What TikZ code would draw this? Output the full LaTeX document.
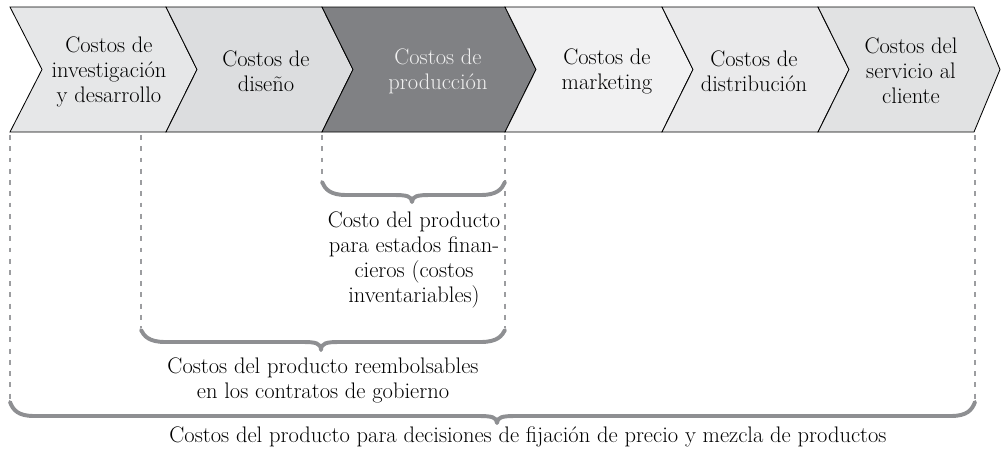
\documentclass[tikz,border=0pt]{standalone}
\usepackage{xcolor}

\definecolor{grisA}{HTML}{E6E7E8}
\definecolor{grisB}{HTML}{DCDDDF}
\definecolor{grisC}{HTML}{808184}
\definecolor{grisD}{HTML}{F1F1F2}
\definecolor{grisE}{HTML}{EAEAEB}
\definecolor{grisF}{HTML}{E1E2E3}
\definecolor{llavegris}{HTML}{8E8F92}
\definecolor{guiagris}{HTML}{9C9DA0}

\tikzset{
  etapa/.style={draw=black, line width=0.6pt, line join=miter},
  rotulo/.style={align=center, inner sep=0pt,
    font=\fontsize{16}{17.8}\selectfont},
  guia/.style={draw=guiagris, line width=1.4pt, dash pattern=on 3.5pt off 4.5pt},
  llave/.style={draw=llavegris, line width=2.8pt, line cap=round, line join=round},
}

% llave: x izq, x punta, x der, y extremos, y barra, y punta
\newcommand{\llave}[6]{%
  \draw[llave] (#1,#4) .. controls (#1+3,#5-6) and (#1+8,#5) .. (#1+24,#5)
    -- (#2-18,#5) .. controls (#2-6,#5) and (#2,#5+1) .. (#2,#6)
    .. controls (#2,#5+1) and (#2+6,#5) .. (#2+18,#5)
    -- (#3-24,#5) .. controls (#3-8,#5) and (#3-3,#5-6) .. (#3,#4);
}

\begin{document}
\begin{tikzpicture}[x=0.025cm, y=-0.025cm]
  \useasboundingbox (0,0) rectangle (1002,455);

  % cadena de valor
  \filldraw[etapa, fill=grisA] (10,7) -- (166,7) -- (197,69.5) -- (166,132) -- (10,132) -- (42,69.5) -- cycle;
  \filldraw[etapa, fill=grisB] (166,7) -- (322,7) -- (353,69.5) -- (322,132) -- (166,132) -- (197,69.5) -- cycle;
  \filldraw[etapa, fill=grisC] (322,7) -- (505,7) -- (536,69.5) -- (505,132) -- (322,132) -- (353,69.5) -- cycle;
  \filldraw[etapa, fill=grisD] (505,7) -- (662,7) -- (693,69.5) -- (662,132) -- (505,132) -- (536,69.5) -- cycle;
  \filldraw[etapa, fill=grisE] (662,7) -- (818,7) -- (849,69.5) -- (818,132) -- (662,132) -- (693,69.5) -- cycle;
  \filldraw[etapa, fill=grisF] (818,7) -- (974,7) -- (1000,69.5) -- (974,132) -- (818,132) -- (849,69.5) -- cycle;

  \node[rotulo] (inv) at (109,72) {Costos de\\investigación\\y desarrollo};
  \node[rotulo] (dis) at (266,71) {Costos de\\diseño};
  \node[rotulo, text=white!94!black] (pro) at (438,71) {Costos de\\producción};
  \node[rotulo] (mkt) at (607,71) {Costos de\\marketing};
  \node[rotulo] (dst) at (754,71) {Costos de\\distribución};
  \node[rotulo] (ser) at (911,71) {Costos del\\servicio al\\cliente};

  % guias punteadas
  \draw[guia] (10,135) -- (10,400);
  \draw[guia] (141,135) -- (141,328);
  \draw[guia] (322,135) -- (322,180);
  \draw[guia] (505,135) -- (505,328);
  \draw[guia] (975,135) -- (975,400);

  % llaves
  \llave{322}{412}{505}{182}{195}{202}
  \llave{141}{321}{505}{330}{342}{350}
  \llave{10}{497}{975}{402}{416}{423}

  \node[rotulo] (inventariable) at (414,260)
    {Costo del producto\\para estados finan-\\cieros (costos\\inventariables)};
  \node[rotulo] (gobierno) at (323,380)
    {Costos del producto reembolsables\\en los contratos de gobierno};
  \node[rotulo] (precio) at (528,437)
    {Costos del producto para decisiones de fijación de precio y mezcla de productos};
\end{tikzpicture}
\end{document}
